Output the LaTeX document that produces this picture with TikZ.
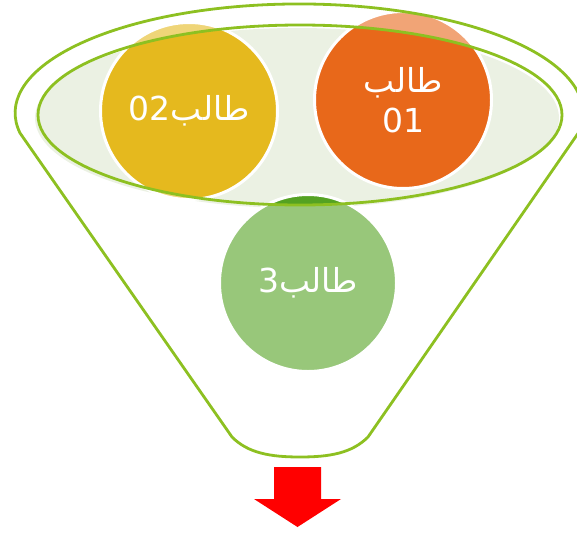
\documentclass[tikz,border=0pt]{standalone}
\usepackage{fontspec}
\newfontfamily\arabicfont[Script=Arabic]{DejaVu Sans}
\TeXXeTstate=1
\definecolor{funnelgreen}{RGB}{141,192,33}
\definecolor{rimfill}{RGB}{235,241,227}
\definecolor{studentyellow}{RGB}{229,185,30}
\definecolor{studentorange}{RGB}{232,104,26}
\definecolor{studentgreen}{RGB}{84,162,34}
\begin{document}
\begin{tikzpicture}[x=1pt, y=-1pt,
                   student/.style={circle, minimum size=177pt, inner sep=0pt, draw=white, line width=3pt,
                                   text=white, align=center, font=\arabicfont\fontsize{33}{40}\selectfont,
                                   fill=#1!60!white,
                                   path picture={\fill[#1] (rim) ellipse [x radius=262pt, y radius=90pt];}},
                   funnel/.style={draw=funnelgreen, line width=2.8pt}]
	\useasboundingbox (0,0) rectangle (577,533);
	\coordinate (rim) at (300,115);
	% top of the funnel
	\fill[rimfill] (297,118) ellipse [x radius=262, y radius=90];
	\begin{scope}[every node/.style={}]
	\node[student=studentorange] (s1) at (403,100) {\beginR طالب\endR\\01};
	\node[student=studentyellow] (s2) at (189,111) {\beginR طالب\beginL 02\endL\endR};
	\node[student=studentgreen] (s3) at (308,283) {\beginR طالب\beginL 3\endL\endR};
	\end{scope}
	\draw[funnel] (rim) ellipse [x radius=262, y radius=90];
	% outline
	\draw[funnel, line join=round] (232,437) -- (20,133)
		arc [start angle=169.4, end angle=370.6, x radius=284, y radius=109]
		-- (368,437) .. controls (352,453) and (330,457) .. (300,457)
		.. controls (270,457) and (248,453) .. (232,437);
	% arrow out
	\fill[red] (274,467) -- (321,467) -- (321,499) -- (341,499) -- (297.5,527)
		-- (254,499) -- (274,499) -- cycle;
\end{tikzpicture}
\end{document}
